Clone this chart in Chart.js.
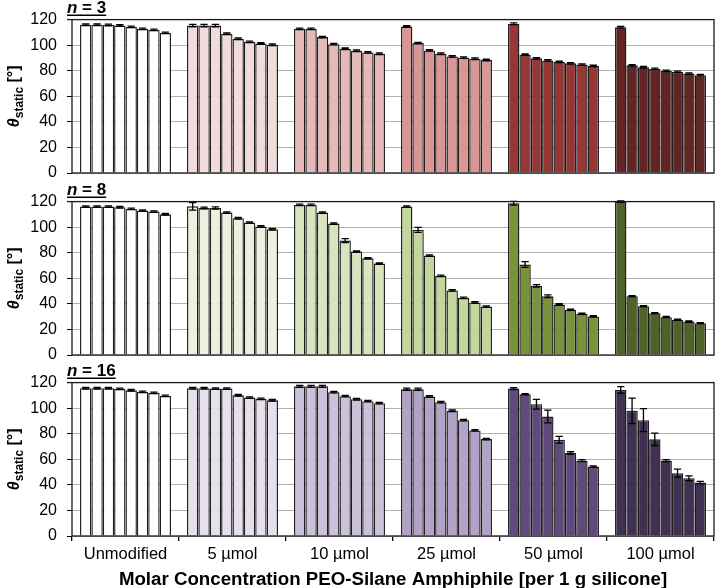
<!DOCTYPE html>
<html>
<head>
<meta charset="utf-8">
<script src="https://cdn.jsdelivr.net/npm/chart.js@4.4.1/dist/chart.umd.min.js"></script>
<style>
  html, body { margin: 0; padding: 0; background: #fff; }
  #wrap { position: relative; width: 716px; height: 588px; overflow: hidden; }
  canvas { position: absolute; left: 0; }
</style>
</head>
<body>
<div id="wrap">
  <canvas id="c1" width="716" height="193" style="top:0px"></canvas>
  <canvas id="c2" width="716" height="193" style="top:182px"></canvas>
  <canvas id="c3" width="716" height="225" style="top:363px"></canvas>
</div>
<script>
// ---- Data ----
const categories = ['Unmodified', '5 µmol', '10 µmol', '25 µmol', '50 µmol', '100 µmol'];
const xTitle = 'Molar Concentration PEO-Silane Amphiphile [per 1 g silicone]';
const yTicks = [0, 20, 40, 60, 80, 100, 120];
const panelLabels = ['3', '8', '16'];

// values per group (8 bars per group), panel n = 3
const valuesN3 = [
  [116, 116, 115.8, 115.4, 114.3, 112.8, 112, 109.6],
  [115.3, 115.3, 115.3, 108.9, 105, 102.6, 101.3, 100.3],
  [112.8, 112.8, 106.3, 100.8, 97.2, 95.6, 94.3, 93.3],
  [114.6, 101.6, 95.9, 93.3, 91.2, 90.2, 89.4, 88.4],
  [116.6, 92.5, 89.7, 88.1, 86.8, 85.8, 84.8, 83.7],
  [114, 84.2, 82.7, 81.4, 79.8, 79.1, 77.8, 76.5]
];
const errorsN3 = [
  [0.6, 0.6, 0.6, 0.6, 0.6, 0.6, 0.6, 0.6],
  [0.9, 0.9, 0.9, 0.6, 0.6, 0.6, 0.6, 0.6],
  [0.6, 0.6, 0.6, 0.6, 0.6, 0.6, 0.6, 0.6],
  [0.6, 0.6, 0.6, 0.6, 0.6, 0.6, 0.6, 0.6],
  [0.8, 0.6, 0.6, 0.6, 0.6, 0.6, 0.6, 0.6],
  [0.7, 0.6, 0.6, 0.6, 0.6, 0.6, 0.6, 0.6]
];
// panel n = 8
const valuesN8 = [
  [116.1, 116.1, 116.1, 115.6, 114.3, 113, 112.2, 110.1],
  [116.3, 115, 115, 111.4, 107, 103.6, 100.5, 98.4],
  [117.4, 117.4, 111.4, 102.8, 89.5, 80.9, 75.7, 71.5],
  [116.1, 97.9, 77.8, 61.9, 50.5, 44.7, 41.1, 37.9],
  [118.7, 70.8, 54.1, 46, 39.5, 35.3, 32.2, 30.2],
  [120, 46, 38.2, 32.7, 29.6, 27.5, 26.2, 24.9]
];
const errorsN8 = [
  [0.6, 0.6, 0.6, 0.6, 0.6, 0.6, 0.6, 0.6],
  [3, 0.7, 0.9, 0.6, 0.6, 0.6, 0.6, 0.6],
  [0.6, 0.6, 0.6, 0.6, 1.6, 0.5, 0.5, 0.5],
  [0.6, 2, 0.6, 0.6, 0.6, 0.6, 0.6, 0.6],
  [1.5, 2.3, 1, 1, 0.6, 0.5, 0.5, 0.5],
  [0.6, 0.5, 0.5, 0.5, 0.5, 0.5, 0.5, 0.5]
];
// panel n = 16
const valuesN16 = [
  [115.6, 115.6, 115.6, 115.1, 114, 112.7, 111.9, 109.6],
  [115.6, 115.6, 115.3, 115.3, 110.1, 108.3, 107.3, 106.2],
  [117.1, 117.1, 117.1, 112.5, 109.4, 107, 105.5, 103.9],
  [114.8, 114.8, 109.1, 104.7, 98, 90.6, 82.6, 75.8],
  [115.3, 110.9, 103.1, 93.5, 75.3, 64.9, 59, 54.3],
  [114.3, 97.9, 90.6, 75.6, 59, 49.1, 45.2, 41.8]
];
const errorsN16 = [
  [0.6, 0.6, 0.6, 0.6, 0.6, 0.6, 0.6, 0.6],
  [0.6, 0.6, 0.6, 0.6, 0.6, 0.6, 0.6, 0.6],
  [0.8, 0.8, 0.8, 0.6, 0.6, 0.6, 0.6, 0.6],
  [0.8, 0.8, 0.6, 0.6, 0.6, 0.6, 0.6, 0.6],
  [0.7, 0.5, 3.8, 5, 2.6, 1, 0.8, 0.6],
  [2.5, 10, 9, 4.8, 0.8, 3.2, 1.8, 1]
];

const colorsN3 = ['#FFFFFF', '#F2DCDB', '#E6B9B8', '#D99694', '#953735', '#632523'];
const colorsN8 = ['#FFFFFF', '#EBF1DE', '#D7E4BD', '#C3D69B', '#77933C', '#4F6228'];
const colorsN16 = ['#FFFFFF', '#E6E0EC', '#CCC1DA', '#B3A2C7', '#604A7B', '#403152'];

const FONT = '"Liberation Sans", Arial, Helvetica, sans-serif';

// ---- Plugins ----
const errorBarPlugin = {
  id: 'errorBars',
  afterDatasetsDraw(chart) {
    const errs = chart.options.plugins.errorBars.errors;
    const ys = chart.scales.y;
    const ctx = chart.ctx;
    ctx.save();
    ctx.strokeStyle = '#000';
    ctx.lineWidth = 1.3;
    chart.data.datasets.forEach((ds, i) => {
      const meta = chart.getDatasetMeta(i);
      meta.data.forEach((el, j) => {
        const v = ds.data[j];
        const e = errs[j][i];
        const yTop = ys.getPixelForValue(v + e);
        const yBot = ys.getPixelForValue(v - e);
        const half = el.width * 0.32;
        ctx.beginPath();
        ctx.moveTo(el.x, yTop); ctx.lineTo(el.x, yBot);
        ctx.moveTo(el.x - half, yTop); ctx.lineTo(el.x + half, yTop);
        ctx.moveTo(el.x - half, yBot); ctx.lineTo(el.x + half, yBot);
        ctx.stroke();
      });
    });
    ctx.restore();
  }
};

const decorPlugin = {
  id: 'decor',
  afterDraw(chart) {
    const o = chart.options.plugins.decor;
    const ctx = chart.ctx;
    const a = chart.chartArea;
    ctx.save();
    // frame
    ctx.strokeStyle = '#1a1a1a';
    ctx.lineWidth = 1.3;
    ctx.strokeRect(a.left, a.top, a.right - a.left, a.bottom - a.top);
    ctx.beginPath(); ctx.moveTo(a.left - 5, a.top); ctx.lineTo(a.left, a.top); ctx.stroke();
    // n = label with underline
    ctx.fillStyle = '#000';
    ctx.textBaseline = 'alphabetic';
    ctx.textAlign = 'left';
    let x = 67;
    const by = a.top - 7;
    ctx.font = 'italic bold 17px ' + FONT;
    ctx.fillText('n', x, by);
    x += ctx.measureText('n').width;
    ctx.font = 'bold 17px ' + FONT;
    const rest = ' = ' + o.n;
    ctx.fillText(rest, x, by);
    x += ctx.measureText(rest).width;
    ctx.lineWidth = 1.6;
    ctx.strokeStyle = '#000';
    ctx.beginPath(); ctx.moveTo(67, a.top - 4.3); ctx.lineTo(x, a.top - 4.3); ctx.stroke();
    // y title: theta_static [°]
    const cy = (a.top + a.bottom) / 2;
    ctx.translate(19, cy);
    ctx.rotate(-Math.PI / 2);
    ctx.font = 'italic bold 16px ' + FONT;
    const w1 = ctx.measureText('θ').width;
    ctx.font = 'bold 12px ' + FONT;
    const w2 = ctx.measureText('static').width;
    ctx.font = 'bold 16px ' + FONT;
    const w3 = ctx.measureText(' [°]').width;
    let tx = -(w1 + w2 + w3) / 2;
    ctx.font = 'italic bold 16px ' + FONT;
    ctx.fillText('θ', tx, 0); tx += w1;
    ctx.font = 'bold 12px ' + FONT;
    ctx.fillText('static', tx, 4); tx += w2;
    ctx.font = 'bold 16px ' + FONT;
    ctx.fillText(' [°]', tx, 0);
    ctx.restore();
    if (o.xTitle) {
      ctx.save();
      ctx.font = 'bold 18.7px ' + FONT;
      ctx.fillStyle = '#000';
      ctx.textAlign = 'center';
      ctx.textBaseline = 'alphabetic';
      ctx.fillText(o.xTitle, (a.left + a.right) / 2, a.bottom + 49);
      ctx.restore();
    }
  }
};

function makePanel(canvasId, values, errors, colors, n, showX) {
  const datasets = [];
  for (let k = 0; k < 8; k++) {
    datasets.push({
      data: values.map(g => g[k]),
      backgroundColor: colors,
      borderColor: '#1e1e1e',
      borderWidth: 1.4,
      categoryPercentage: 0.85,
      barPercentage: 1.0
    });
  }
  return new Chart(document.getElementById(canvasId), {
    type: 'bar',
    data: { labels: categories, datasets },
    options: {
      responsive: false,
      animation: false,
      devicePixelRatio: 1,
      layout: { padding: { left: 0, right: 2, top: 19, bottom: 0 } },
      plugins: {
        legend: { display: false },
        tooltip: { enabled: false },
        errorBars: { errors },
        decor: { n, xTitle: showX ? xTitle : null }
      },
      scales: {
        x: {
          display: true,
          grid: { display: showX, offset: true, drawOnChartArea: false, tickLength: 5, tickColor: '#000', lineWidth: 1.3 },
          border: { display: false },
          ticks: { display: showX, color: '#000', font: { family: FONT, size: 16.5 }, padding: 4, maxRotation: 0, autoSkip: false },
          afterFit(s) { s.height = showX ? 52 : 20; }
        },
        y: {
          min: 0, max: 120,
          afterBuildTicks(s) { s.ticks = yTicks.map(v => ({ value: v })); },
          grid: { color: '#b0b0b0', lineWidth: 1, tickLength: 5, tickColor: '#000' },
          border: { display: false },
          ticks: { color: '#000', font: { family: FONT, size: 16 }, padding: 10, autoSkip: false },
          afterFit(s) { s.width = 72; }
        }
      }
    },
    plugins: [errorBarPlugin, decorPlugin]
  });
}

makePanel('c1', valuesN3, errorsN3, colorsN3, panelLabels[0], false);
makePanel('c2', valuesN8, errorsN8, colorsN8, panelLabels[1], false);
makePanel('c3', valuesN16, errorsN16, colorsN16, panelLabels[2], true);
</script>
</body>
</html>
